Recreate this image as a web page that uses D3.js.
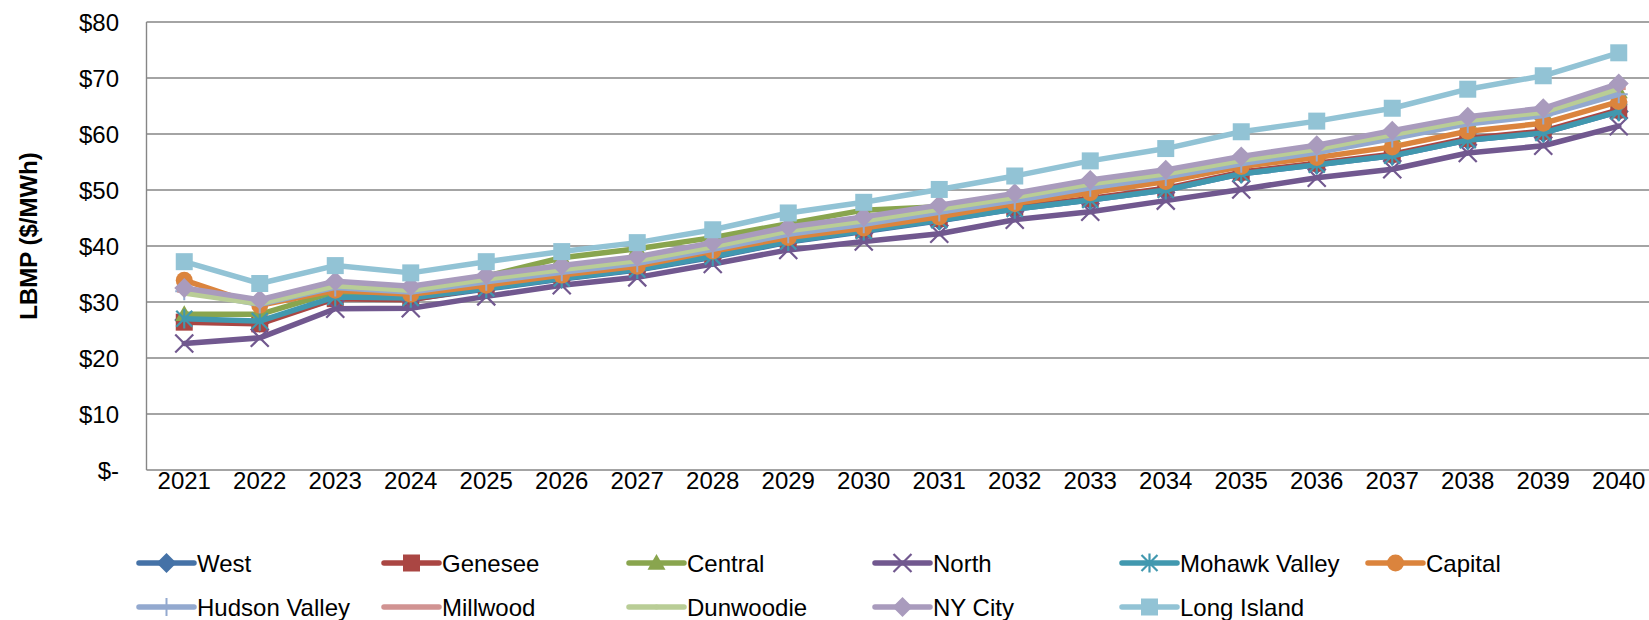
<!DOCTYPE html>
<html>
<head>
<meta charset="utf-8">
<script src="https://cdn.jsdelivr.net/npm/d3@7"></script>
<style>
  html, body { margin: 0; padding: 0; background: #fff; }
  svg { display: block; }
  text { font-family: "Liberation Sans", Arial, sans-serif; fill: #000; }
</style>
</head>
<body>
<svg id="chart" width="1649" height="620"></svg>
<script>
// ---- data ----
const years = ["2021","2022","2023","2024","2025","2026","2027","2028","2029","2030",
               "2031","2032","2033","2034","2035","2036","2037","2038","2039","2040"];
const yTicks = [0, 10, 20, 30, 40, 50, 60, 70, 80];

const west       = [26.8, 26.3, 30.7, 30.5, 32.3, 34.1, 35.7, 38.0, 40.7, 42.6, 44.5, 46.6, 48.2, 50.0, 52.9, 54.5, 56.1, 58.9, 60.2, 64.0];
const genesee    = [26.4, 26.1, 30.6, 30.4, 32.6, 34.4, 36.0, 38.4, 41.1, 42.9, 44.9, 46.9, 48.5, 50.3, 53.2, 54.8, 56.4, 59.2, 60.5, 64.3];
const central    = [27.8, 27.8, 31.8, 31.3, 34.6, 37.9, 39.5, 41.5, 44.0, 46.4, 47.0, 48.9, 51.2, 53.0, 55.3, 57.2, 59.7, 62.3, 63.7, 67.6];
const north      = [22.6, 23.6, 28.8, 28.9, 31.0, 33.0, 34.4, 36.8, 39.3, 40.8, 42.2, 44.7, 46.1, 48.1, 50.1, 52.2, 53.7, 56.6, 57.9, 61.4];
const mohawk     = [27.0, 26.6, 30.9, 30.7, 32.4, 34.2, 35.8, 38.1, 40.8, 42.7, 44.6, 46.6, 48.2, 50.0, 52.9, 54.5, 56.1, 58.9, 60.2, 64.0];
const capital    = [33.9, 29.4, 32.1, 31.4, 33.0, 34.8, 36.4, 39.1, 41.5, 43.2, 45.2, 47.6, 49.5, 51.5, 54.2, 55.8, 57.7, 60.5, 61.9, 65.8];
const hudson     = [31.9, 29.6, 32.6, 31.8, 33.6, 35.3, 36.9, 39.4, 42.1, 43.9, 46.0, 48.1, 50.4, 52.3, 54.7, 56.7, 59.2, 61.8, 63.3, 67.1];
const millwood   = [32.0, 29.9, 33.1, 32.3, 34.3, 35.9, 37.5, 40.0, 42.8, 44.6, 46.7, 48.8, 51.2, 53.0, 55.4, 57.4, 60.0, 62.5, 64.0, 68.2];
const dunwoodie  = [31.6, 29.7, 32.9, 32.1, 34.1, 35.8, 37.4, 39.9, 42.7, 44.5, 46.6, 48.7, 51.1, 52.9, 55.3, 57.3, 59.9, 62.4, 63.9, 68.1];
const nyCity     = [32.5, 30.4, 33.7, 32.8, 34.8, 36.5, 38.1, 40.6, 43.4, 45.2, 47.3, 49.4, 51.8, 53.6, 56.0, 58.0, 60.6, 63.1, 64.6, 69.0];
const longIsland = [37.2, 33.3, 36.5, 35.2, 37.2, 39.0, 40.6, 42.9, 45.9, 47.8, 50.1, 52.5, 55.2, 57.4, 60.4, 62.3, 64.6, 68.0, 70.4, 74.5];

const seriesNames = ["West","Genesee","Central","North","Mohawk Valley","Capital",
                     "Hudson Valley","Millwood","Dunwoodie","NY City","Long Island"];
const seriesValues = [west, genesee, central, north, mohawk, capital, hudson, millwood, dunwoodie, nyCity, longIsland];
const seriesColors = ["#4572A7","#AA4643","#89A54E","#71588F","#4198AF","#DB843D",
                      "#93A9CF","#D19392","#B9CD96","#A99BBD","#92C3D5"];
const seriesMarkers = ["diamond","square","triangle","x","star","circle","plus","dash","dot","diamond","square"];

// ---- layout ----
const svg = d3.select("#chart");
const plotLeft = 146.5, plotTop = 22, plotBottom = 470;
const step = 75.5;
const x = d3.scaleBand().domain(years).range([plotLeft, plotLeft + step * years.length]).paddingInner(0).paddingOuter(0);
const y = d3.scaleLinear().domain([0, 80]).range([plotBottom, plotTop]);
const cx = d => x(d) + x.bandwidth() / 2;

// gridlines
svg.append("g").selectAll("line").data(yTicks).join("line")
  .attr("x1", plotLeft).attr("x2", plotLeft + step * years.length)
  .attr("y1", d => y(d)).attr("y2", d => y(d))
  .attr("stroke", "#868686").attr("stroke-width", 1.4);
// left axis line
svg.append("line").attr("x1", plotLeft).attr("x2", plotLeft)
  .attr("y1", plotTop).attr("y2", plotBottom)
  .attr("stroke", "#868686").attr("stroke-width", 1.4);

// y tick labels
svg.append("g").selectAll("text").data(yTicks).join("text")
  .attr("x", 119).attr("y", d => y(d))
  .attr("text-anchor", "end").attr("dominant-baseline", "central")
  .attr("font-size", 24)
  .text(d => d === 0 ? "$-" : "$" + d);

// x tick labels
svg.append("g").selectAll("text").data(years).join("text")
  .attr("x", d => cx(d)).attr("y", 480)
  .attr("text-anchor", "middle").attr("dominant-baseline", "central")
  .attr("font-size", 24)
  .text(d => d);

// y axis title
svg.append("text")
  .attr("transform", "translate(28,236) rotate(-90)")
  .attr("text-anchor", "middle").attr("dominant-baseline", "central")
  .attr("font-size", 24).attr("font-weight", "bold")
  .text("LBMP ($/MWh)");

// ---- marker drawing ----
function drawMarker(g, type, color, px, py, scale) {
  const s = scale || 1;
  if (type === "diamond") {
    const r = 10 * s;
    g.append("path").attr("d", `M${px},${py - r}L${px + r},${py}L${px},${py + r}L${px - r},${py}Z`).attr("fill", color);
  } else if (type === "square") {
    const r = 8.5 * s;
    g.append("rect").attr("x", px - r).attr("y", py - r).attr("width", 2 * r).attr("height", 2 * r).attr("fill", color);
  } else if (type === "triangle") {
    const r = 9 * s;
    g.append("path").attr("d", `M${px},${py - r}L${px + r},${py + r * 0.75}L${px - r},${py + r * 0.75}Z`).attr("fill", color);
  } else if (type === "circle") {
    g.append("circle").attr("cx", px).attr("cy", py).attr("r", 8.5 * s).attr("fill", color);
  } else if (type === "x") {
    const r = 9 * s;
    g.append("path").attr("d", `M${px - r},${py - r}L${px + r},${py + r}M${px + r},${py - r}L${px - r},${py + r}`)
      .attr("stroke", color).attr("stroke-width", 2.2).attr("fill", "none");
  } else if (type === "star") {
    const r = 8 * s;
    g.append("path").attr("d", `M${px - r},${py - r}L${px + r},${py + r}M${px + r},${py - r}L${px - r},${py + r}M${px},${py - r * 1.2}L${px},${py + r * 1.2}`)
      .attr("stroke", color).attr("stroke-width", 2.2).attr("fill", "none");
  } else if (type === "plus") {
    const r = 9 * s;
    g.append("path").attr("d", `M${px - r},${py}L${px + r},${py}M${px},${py - r}L${px},${py + r}`)
      .attr("stroke", color).attr("stroke-width", 2).attr("fill", "none");
  } else if (type === "dash") {
    const r = 7 * s;
    g.append("path").attr("d", `M${px - r},${py}L${px + r},${py}`)
      .attr("stroke", color).attr("stroke-width", 4).attr("fill", "none");
  } else if (type === "dot") {
    g.append("circle").attr("cx", px).attr("cy", py).attr("r", 2.5 * s).attr("fill", color);
  }
}

// ---- series ----
const line = d3.line().x((d, i) => cx(years[i])).y(d => y(d));
seriesValues.forEach((vals, k) => {
  const g = svg.append("g").attr("class", "series");
  g.append("path").datum(vals).attr("d", line)
    .attr("fill", "none").attr("stroke", seriesColors[k]).attr("stroke-width", 5.5)
    .attr("stroke-linejoin", "round").attr("stroke-linecap", "round");
  vals.forEach((v, i) => drawMarker(g, seriesMarkers[k], seriesColors[k], cx(years[i]), y(v), 1));
});

// ---- legend ----
const legCols = [139, 384, 629, 875, 1122, 1368];
const legRows = [563, 607];
const legendG = svg.append("g");
seriesNames.forEach((name, k) => {
  const row = k < 6 ? 0 : 1;
  const col = k < 6 ? k : k - 6;
  const lx = legCols[col], ly = legRows[row];
  const g = legendG.append("g");
  g.append("line").attr("x1", lx).attr("x2", lx + 55).attr("y1", ly).attr("y2", ly)
    .attr("stroke", seriesColors[k]).attr("stroke-width", 5.5).attr("stroke-linecap", "round");
  drawMarker(g, seriesMarkers[k], seriesColors[k], lx + 27.5, ly, 1);
  g.append("text").attr("x", lx + 58).attr("y", ly)
    .attr("dominant-baseline", "central").attr("font-size", 24)
    .text(name);
});
</script>
</body>
</html>
